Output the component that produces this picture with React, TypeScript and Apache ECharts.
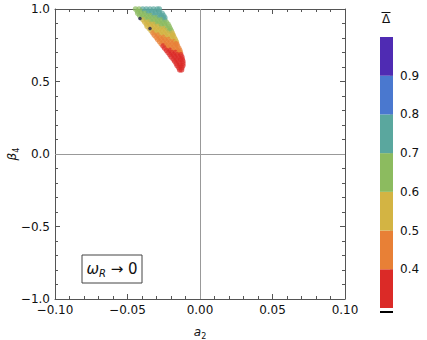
import React, { useEffect, useRef } from "react";
import * as echarts from "echarts";

// β4 value of each row of the scatter cloud
const beta4Rows = [
  1.0, 0.985, 0.97, 0.955, 0.94, 0.925, 0.91, 0.895, 0.88, 0.865, 0.85, 0.835, 0.82, 0.805, 0.79,
  0.775, 0.76, 0.745, 0.73, 0.715, 0.7, 0.685, 0.67, 0.655, 0.64, 0.625, 0.61, 0.595, 0.58,
];
// a2 values of the points in each row
const a2Rows = [
  [-0.0445, -0.042, -0.0395, -0.037, -0.0345, -0.032, -0.0295, -0.028],
  [-0.0432, -0.0407, -0.0382, -0.0357, -0.0332, -0.0307, -0.0282],
  [-0.043, -0.0405, -0.038, -0.0355, -0.033, -0.0305, -0.028, -0.026],
  [-0.0417, -0.0392, -0.0367, -0.0342, -0.0317, -0.0292, -0.0267, -0.025],
  [-0.0405, -0.038, -0.0355, -0.033, -0.0305, -0.028, -0.0255, -0.0242],
  [-0.0393, -0.0368, -0.0343, -0.0318, -0.0293, -0.0268, -0.0243],
  [-0.0382, -0.0357, -0.0332, -0.0307, -0.0282, -0.0257, -0.0232],
  [-0.037, -0.0345, -0.032, -0.0295, -0.027, -0.0245, -0.022],
  [-0.0365, -0.034, -0.0315, -0.029, -0.0265, -0.024, -0.0212],
  [-0.035, -0.0325, -0.03, -0.0275, -0.025, -0.0225, -0.0205],
  [-0.0337, -0.0312, -0.0287, -0.0262, -0.0237, -0.0212, -0.0198],
  [-0.0325, -0.03, -0.0275, -0.025, -0.0225, -0.0191],
  [-0.0316, -0.0291, -0.0266, -0.0241, -0.0216, -0.0191, -0.0184],
  [-0.0302, -0.0277, -0.0252, -0.0227, -0.0202, -0.0178],
  [-0.0292, -0.0267, -0.0242, -0.0217, -0.0192, -0.017],
  [-0.028, -0.0255, -0.023, -0.0205, -0.018, -0.0163],
  [-0.0268, -0.0243, -0.0218, -0.0193, -0.0168, -0.016],
  [-0.0255, -0.023, -0.0205, -0.018, -0.0155],
  [-0.0244, -0.0219, -0.0194, -0.0169, -0.0146],
  [-0.0232, -0.0207, -0.0182, -0.0157, -0.0139],
  [-0.022, -0.0195, -0.017, -0.0145, -0.0135],
  [-0.0208, -0.0183, -0.0158, -0.0132],
  [-0.0199, -0.0174, -0.0149, -0.0125],
  [-0.0185, -0.016, -0.0135, -0.0122],
  [-0.0175, -0.015, -0.0118],
  [-0.0165, -0.014, -0.0118],
  [-0.0158, -0.0136, -0.0118],
  [-0.0146, -0.0125],
  [-0.014, -0.0127],
];
// Δ̄ value of the points in each row
const deltaRows = [
  [0.66, 0.68, 0.7, 0.71, 0.72, 0.73, 0.74, 0.74],
  [0.66, 0.68, 0.7, 0.71, 0.72, 0.73, 0.74],
  [0.64, 0.66, 0.68, 0.7, 0.71, 0.72, 0.73, 0.74],
  [0.62, 0.64, 0.66, 0.68, 0.7, 0.71, 0.72, 0.73],
  [0.6, 0.62, 0.64, 0.66, 0.68, 0.7, 0.71, 0.72],
  [0.58, 0.6, 0.62, 0.64, 0.66, 0.68, 0.7],
  [0.56, 0.58, 0.6, 0.62, 0.64, 0.66, 0.68],
  [0.54, 0.56, 0.58, 0.6, 0.62, 0.64, 0.66],
  [0.53, 0.55, 0.57, 0.59, 0.61, 0.63, 0.64],
  [0.51, 0.53, 0.55, 0.57, 0.59, 0.61, 0.62],
  [0.5, 0.52, 0.54, 0.56, 0.58, 0.6, 0.61],
  [0.48, 0.5, 0.52, 0.54, 0.56, 0.59],
  [0.47, 0.48, 0.5, 0.52, 0.54, 0.56, 0.57],
  [0.45, 0.47, 0.49, 0.51, 0.53, 0.55],
  [0.44, 0.46, 0.47, 0.49, 0.51, 0.53],
  [0.42, 0.44, 0.46, 0.47, 0.49, 0.5],
  [0.41, 0.43, 0.44, 0.46, 0.48, 0.49],
  [0.39, 0.41, 0.43, 0.44, 0.46],
  [0.38, 0.4, 0.41, 0.43, 0.44],
  [0.37, 0.38, 0.4, 0.41, 0.42],
  [0.36, 0.37, 0.38, 0.4, 0.41],
  [0.35, 0.36, 0.37, 0.38],
  [0.34, 0.35, 0.36, 0.37],
  [0.33, 0.34, 0.35, 0.36],
  [0.33, 0.34, 0.35],
  [0.32, 0.33, 0.34],
  [0.32, 0.33, 0.34],
  [0.32, 0.33],
  [0.32, 0.32],
];
// a few isolated dark points left of the cloud
const outlierA2 = [-0.0414, -0.0345];
const outlierBeta4 = [0.934, 0.865];

// colour bar
const colorbarBounds = [0.3, 0.4, 0.5, 0.6, 0.7, 0.8, 0.9, 1.0];
const colorbarColors = ["#db2a27", "#e88036", "#d3b443", "#8cbb5f", "#5aa79e", "#4a78cf", "#4f2bb3"];

const FONT = "DejaVu Sans";

function fmt(v: number, d: number) {
  const s = Math.abs(v).toFixed(d);
  return (v < -1e-9 ? "\u2212" : "") + s;
}

export default function App() {
  const ref = useRef<HTMLDivElement>(null);
  useEffect(() => {
    if (!ref.current) return;
    const chart = echarts.init(ref.current, undefined, { renderer: "svg" });

    const points: number[][] = [];
    beta4Rows.forEach((b, i) => {
      a2Rows[i].forEach((a, j) => points.push([a, b, deltaRows[i][j]]));
    });
    const outliers = outlierA2.map((a, i) => [a, outlierBeta4[i]]);

    const pieces = colorbarColors.map((c, i) => ({
      gte: colorbarBounds[i],
      lt: i === colorbarColors.length - 1 ? 10 : colorbarBounds[i + 1],
      color: c,
    }));

    const axisLineStyle = { color: "#555", width: 1 };
    const tickCommon = { show: true, inside: true, length: 5, lineStyle: { color: "#555" } };
    const minorCommon = { show: true, splitNumber: 5, length: 3, lineStyle: { color: "#555" } };
    const labelStyle = { fontFamily: FONT, fontSize: 12, color: "#111" };

    const cbSeries: any[] = [
      {
        type: "bar",
        xAxisIndex: 2,
        yAxisIndex: 2,
        stack: "cb",
        barWidth: "100%",
        silent: true,
        data: [colorbarBounds[0]],
        itemStyle: { color: "rgba(0,0,0,0)" },
      },
      ...colorbarColors.map((c, i) => ({
        type: "bar",
        xAxisIndex: 2,
        yAxisIndex: 2,
        stack: "cb",
        barWidth: "100%",
        silent: true,
        data: [+(colorbarBounds[i + 1] - colorbarBounds[i]).toFixed(4)],
        itemStyle: { color: c },
      })),
    ];

    const nameRich = {
      i: { fontFamily: FONT, fontSize: 12, fontStyle: "italic", color: "#111", lineHeight: 16 },
      s: { fontFamily: FONT, fontSize: 8, color: "#111", lineHeight: 8, verticalAlign: "bottom" },
    };

    chart.setOption({
      animation: false,
      textStyle: { fontFamily: FONT },
      grid: [
        { left: 55, top: 9, width: 290, height: 290, outerBoundsMode: "none", containLabel: false },
        { left: 380, top: 37, width: 13, height: 271, outerBoundsMode: "none", containLabel: false },
      ],
      visualMap: {
        type: "piecewise",
        show: false,
        dimension: 2,
        seriesIndex: 0,
        pieces,
      },
      xAxis: [
        {
          gridIndex: 0,
          type: "value",
          min: -0.1,
          max: 0.1,
          interval: 0.05,
          position: "bottom",
          axisLine: { show: true, onZero: false, lineStyle: axisLineStyle },
          axisTick: tickCommon,
          minorTick: minorCommon,
          splitLine: { show: false },
          axisLabel: { ...labelStyle, margin: 5, formatter: (v: number) => fmt(v, 2) },
          name: "{i|a}{s|2}",
          nameLocation: "middle",
          nameGap: 25,
          nameMoveOverlap: false,
          nameTextStyle: { rich: nameRich },
        },
        {
          gridIndex: 0,
          type: "value",
          min: -0.1,
          max: 0.1,
          interval: 0.05,
          position: "top",
          axisLine: { show: true, onZero: false, lineStyle: axisLineStyle },
          axisTick: tickCommon,
          minorTick: minorCommon,
          splitLine: { show: false },
          axisLabel: { show: false },
        },
        { gridIndex: 1, type: "category", data: ["cb"], show: false },
      ],
      yAxis: [
        {
          gridIndex: 0,
          type: "value",
          min: -1,
          max: 1,
          interval: 0.5,
          position: "left",
          axisLine: { show: true, onZero: false, lineStyle: axisLineStyle },
          axisTick: tickCommon,
          minorTick: minorCommon,
          splitLine: { show: false },
          axisLabel: { ...labelStyle, margin: 5, formatter: (v: number) => fmt(v, 1) },
          name: "{i|\u03b2}{s|4}",
          nameLocation: "middle",
          nameRotate: 90,
          nameGap: 35,
          nameMoveOverlap: false,
          nameTextStyle: { rich: nameRich },
        },
        {
          gridIndex: 0,
          type: "value",
          min: -1,
          max: 1,
          interval: 0.5,
          position: "right",
          axisLine: { show: true, onZero: false, lineStyle: axisLineStyle },
          axisTick: tickCommon,
          minorTick: minorCommon,
          splitLine: { show: false },
          axisLabel: { show: false },
        },
        {
          gridIndex: 1,
          type: "value",
          min: 0.3,
          max: 1.0,
          interval: 0.1,
          position: "right",
          axisLine: { show: false },
          axisTick: { show: true, inside: true, length: 3, lineStyle: { color: "#bbb" } },
          splitLine: { show: false },
          axisLabel: {
            ...labelStyle,
            margin: 7,
            showMinLabel: false,
            showMaxLabel: false,
            formatter: (v: number) => {
              const r = Math.round(v * 10) / 10;
              if (r <= 0.3 || r >= 1.0) return "";
              return r.toFixed(1);
            },
          },
        },
      ],
      series: [
        {
          type: "scatter",
          xAxisIndex: 0,
          yAxisIndex: 0,
          symbolSize: 5.5,
          itemStyle: { opacity: 0.7 },
          data: points,
          z: 3,
          markLine: {
            silent: true,
            symbol: "none",
            label: { show: false },
            lineStyle: { color: "#999", width: 1, type: "solid" },
            data: [{ xAxis: 0 }, { yAxis: 0 }],
            z: 1,
          },
        },
        {
          type: "scatter",
          xAxisIndex: 0,
          yAxisIndex: 0,
          symbolSize: 3.5,
          itemStyle: { color: "#25224d" },
          data: outliers,
          z: 4,
        },
        ...cbSeries,
      ],
      graphic: [
        {
          type: "rect",
          shape: { x: 82, y: 255, width: 60, height: 28 },
          style: { fill: "#fff", stroke: "#444", lineWidth: 1 },
          z: 10,
        },
        {
          type: "text",
          x: 112,
          y: 269,
          z: 11,
          style: {
            text: "{w|\u03c9}{s|R}{t| \u2192 0}",
            textAlign: "center",
            textVerticalAlign: "middle",
            rich: {
              w: { fontFamily: FONT, fontSize: 15, fontStyle: "italic", fill: "#111", lineHeight: 18 },
              s: { fontFamily: FONT, fontSize: 10, fontStyle: "italic", fill: "#111", lineHeight: 10, verticalAlign: "bottom" },
              t: { fontFamily: FONT, fontSize: 15, fill: "#111", lineHeight: 18 },
            },
          },
        },
        {
          type: "text",
          x: 386,
          y: 19,
          style: {
            text: "\u0394",
            font: `12px "${FONT}"`,
            fill: "#111",
            textAlign: "center",
            textVerticalAlign: "middle",
          },
        },
        {
          type: "line",
          shape: { x1: 381.5, y1: 12.5, x2: 390.5, y2: 12.5 },
          style: { stroke: "#111", lineWidth: 1 },
        },
        {
          type: "rect",
          shape: { x: 380, y: 311, width: 13, height: 2 },
          style: { fill: "#000" },
        },
      ],
    });
    return () => chart.dispose();
  }, []);
  return <div ref={ref} style={{ width: 427, height: 340, position: "absolute", left: 0, top: 0 }} />;
}
